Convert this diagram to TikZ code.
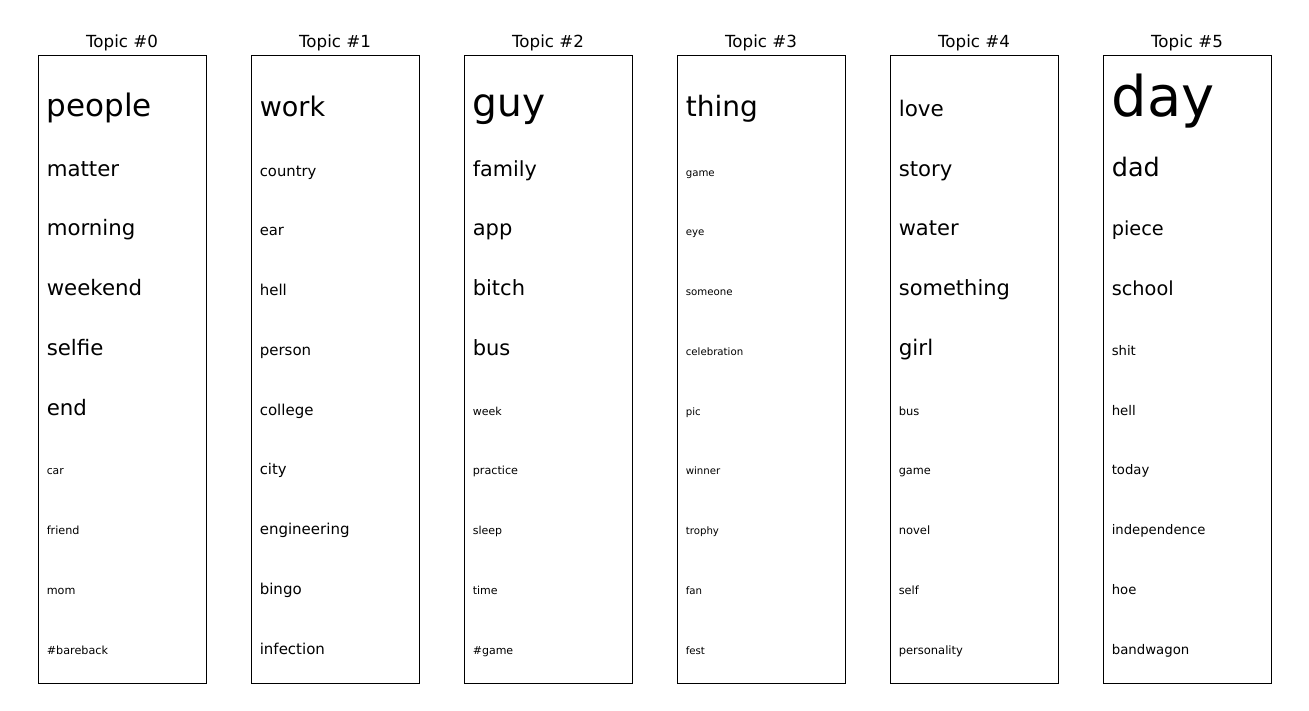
\documentclass[tikz,border=0pt]{standalone}
\usepackage{fontspec}
\setmainfont{DejaVu Sans}
\newcommand\wrd[4]{\node[wordnode, font=\fontsize{#3}{#3}\selectfont] (w#1r#2) at ({38+213*#1+8.6},{116.3+59.75*#2}) {#4};}
\begin{document}
\begin{tikzpicture}[x=1pt,y=-1pt,
  topicbox/.style={draw=black, line width=1pt, minimum width=168pt, minimum height=628pt, inner sep=0pt, anchor=north west},
  ttl/.style={anchor=base, inner sep=0pt, font=\fontsize{16.67}{20}\selectfont},
  wordnode/.style={anchor=base west, inner sep=0pt, text=black}]
\useasboundingbox[fill=white] (0,0) rectangle (1309,710);
\foreach \c in {0,...,5} {
  \node[topicbox] (box\c) at ({38+213*\c},55) {};
  \node[ttl] (title\c) at ({122+213*\c},47.7) {Topic \#\c};
}
% Topic 0
\wrd{0}{0}{31}{people}
\wrd{0}{1}{21.3}{matter}
\wrd{0}{2}{21.3}{morning}
\wrd{0}{3}{21.3}{weekend}
\wrd{0}{4}{21.3}{selfie}
\wrd{0}{5}{21.3}{end}
\wrd{0}{6}{10.8}{car}
\wrd{0}{7}{11.2}{friend}
\wrd{0}{8}{11.2}{mom}
\wrd{0}{9}{11.2}{\#bareback}
% Topic 1
\wrd{1}{0}{27}{work}
\wrd{1}{1}{14.8}{country}
\wrd{1}{2}{14.8}{ear}
\wrd{1}{3}{15}{hell}
\wrd{1}{4}{15}{person}
\wrd{1}{5}{15}{college}
\wrd{1}{6}{14.8}{city}
\wrd{1}{7}{15}{engineering}
\wrd{1}{8}{15}{bingo}
\wrd{1}{9}{15}{infection}
% Topic 2
\wrd{2}{0}{39}{guy}
\wrd{2}{1}{20.8}{family}
\wrd{2}{2}{21}{app}
\wrd{2}{3}{21}{bitch}
\wrd{2}{4}{21}{bus}
\wrd{2}{5}{11}{week}
\wrd{2}{6}{11.2}{practice}
\wrd{2}{7}{11}{sleep}
\wrd{2}{8}{11}{time}
\wrd{2}{9}{11}{\#game}
% Topic 3
\wrd{3}{0}{28}{thing}
\wrd{3}{1}{10.2}{game}
\wrd{3}{2}{10.2}{eye}
\wrd{3}{3}{10.2}{someone}
\wrd{3}{4}{10.2}{celebration}
\wrd{3}{5}{10.2}{pic}
\wrd{3}{6}{10.2}{winner}
\wrd{3}{7}{10.2}{trophy}
\wrd{3}{8}{10.2}{fan}
\wrd{3}{9}{10.2}{fest}
% Topic 4
\wrd{4}{0}{21.5}{love}
\wrd{4}{1}{21.2}{story}
\wrd{4}{2}{21}{water}
\wrd{4}{3}{21}{something}
\wrd{4}{4}{21.5}{girl}
\wrd{4}{5}{11.5}{bus}
\wrd{4}{6}{11.3}{game}
\wrd{4}{7}{11.5}{novel}
\wrd{4}{8}{11.3}{self}
\wrd{4}{9}{11.5}{personality}
% Topic 5
\wrd{5}{0}{56}{day}
\wrd{5}{1}{25.5}{dad}
\wrd{5}{2}{19.3}{piece}
\wrd{5}{3}{19.3}{school}
\wrd{5}{4}{13.2}{shit}
\wrd{5}{5}{13.3}{hell}
\wrd{5}{6}{13.2}{today}
\wrd{5}{7}{13.2}{independence}
\wrd{5}{8}{13.2}{hoe}
\wrd{5}{9}{13.3}{bandwagon}
\end{tikzpicture}
\end{document}
